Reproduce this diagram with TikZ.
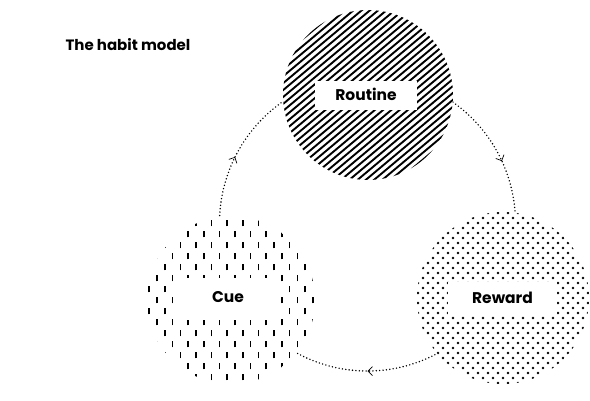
\documentclass[tikz,border=0pt]{standalone}
\usepackage{fontspec}
\setmainfont{Poppins}
\usetikzlibrary{arrows.meta,decorations.markings}

\begin{document}
\begin{tikzpicture}[
      x=1pt, y=1pt,
      habitcircle/.style={
         circle,
         fill=white,
         inner sep=0pt,
         minimum size=#1},
      labelbox/.style={
         rectangle,
         fill=white,
         inner sep=0pt,
         text depth=4pt,
         font=\fontsize{15.5}{18}\selectfont\bfseries},
      titletext/.style={
         font=\fontsize{15}{18}\selectfont\bfseries},
      cyclearc/.style={
         line width=1.6pt,
         line cap=round,
         dash pattern=on 0pt off 3.4pt,
         postaction={decorate},
         decoration={markings,
            mark=at position #1 with {\arrow{Straight Barb[length=4.5pt,width=9pt,line width=0.7pt]}}}},
      stripe/.style={line width=1.9pt},
      tick/.style={line width=1.5pt},
      ]
   \useasboundingbox (0,0) rectangle (590,401);
   \node[titletext, anchor=base west] (title) at (62,350) {The habit model};

   % the loop behind the circles
   \coordinate (hub) at (367.5,178);
   \draw[cyclearc=0.485] (hub) ++(185:148) arc[start angle=185, end angle=120, radius=148];
   \draw[cyclearc=0.543] (hub) ++(60:148) arc[start angle=60, end angle=-5, radius=148];
   \draw[cyclearc=0.5] (hub) ++(-30:148) arc[start angle=-30, end angle=-150, radius=148];

   \node[habitcircle=170pt] (routine) at (368,306) {};
   \node[habitcircle=168pt] (cue) at (231,101) {};
   \node[habitcircle=172pt] (reward) at (503,103) {};

   % routine: stripes
   \begin{scope}
      \clip (routine.center) circle[radius=85];
      \begin{scope}[shift={(routine.center)}, rotate=40]
         \foreach \k in {-17,...,17}
            \draw[stripe] (-95,\k*5.3) -- (95,\k*5.3);
      \end{scope}
   \end{scope}

   % cue: short ticks
   \begin{scope}
      \clip (cue.center) circle[radius=84];
      \begin{scope}[shift={(cue.center)}]
         \foreach \j in {-8,...,8}
            \foreach \i in {-6,...,6}
               \draw[tick] ({\i*15.6+mod(abs(\j),2)*7.8+4},{\j*11-3.4}) -- ++(0,6.8);
      \end{scope}
   \end{scope}

   % reward: dots
   \begin{scope}
      \clip (reward.center) circle[radius=86];
      \begin{scope}[shift={(reward.center)}]
         \foreach \j in {-18,...,18}
            \foreach \i in {-9,...,9}
               \fill ({\i*10+mod(abs(\j),2)*5},{\j*5}) circle[radius=1.3];
      \end{scope}
   \end{scope}

   \node[labelbox, minimum width=102pt, minimum height=29pt] (routinelabel) at (366,305) {Routine};
   \node[labelbox, minimum width=104pt, minimum height=42pt] (cuelabel) at (228,101.6) {Cue};
   \node[labelbox, minimum width=109pt, minimum height=34pt] (rewardlabel) at (502.5,101.7) {Reward};
\end{tikzpicture}
\end{document}
